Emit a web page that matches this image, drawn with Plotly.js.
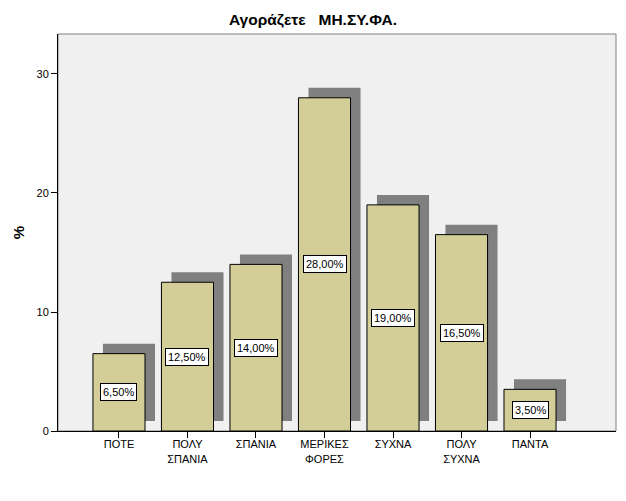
<!DOCTYPE html>
<html><head><meta charset="utf-8">
<script src="https://cdn.plot.ly/plotly-3.0.1.min.js"></script>
<style>html,body{margin:0;padding:0;background:#fff}</style>
</head><body><div id="chart" style="width:626px;height:501px"></div>
<script>
const categories = ["ΠΟΤΕ", "ΠΟΛΥ ΣΠΑΝΙΑ", "ΣΠΑΝΙΑ", "ΜΕΡΙΚΕΣ ΦΟΡΕΣ", "ΣΥΧΝΑ", "ΠΟΛΥ ΣΥΧΝΑ", "ΠΑΝΤΑ"];
const tickLabels = ["ΠΟΤΕ", "ΠΟΛΥ<br>ΣΠΑΝΙΑ", "ΣΠΑΝΙΑ", "ΜΕΡΙΚΕΣ<br>ΦΟΡΕΣ", "ΣΥΧΝΑ", "ΠΟΛΥ<br>ΣΥΧΝΑ", "ΠΑΝΤΑ"];
const percents = [6.5, 12.5, 14.0, 28.0, 19.0, 16.5, 3.5];

const font = "Arial, 'Liberation Sans', sans-serif";
const bw = 0.76;
const shadowBase = 0.84;   // ~10px lift
const shadowShift = 0.146; // ~10px right

const shadow = {
  type: 'bar', x: categories, y: percents,
  base: percents.map(() => shadowBase),
  width: percents.map(() => bw),
  offset: percents.map(() => -bw/2 + shadowShift),
  marker: {color: '#808080', line: {width: 0}},
  hoverinfo: 'skip', showlegend: false
};
const bars = {
  type: 'bar', x: categories, y: percents,
  width: percents.map(() => bw),
  offset: percents.map(() => -bw/2),
  marker: {color: '#d3ce98', line: {color: '#000', width: 1}},
  showlegend: false
};

const annotations = categories.map((c, i) => ({
  x: c, y: percents[i] / 2, xref: 'x', yref: 'y',
  text: percents[i].toFixed(2).replace('.', ',') + '%',
  showarrow: false, bgcolor: '#fff', bordercolor: '#000', borderwidth: 1, borderpad: 2,
  font: {family: font, size: 11, color: '#000'}
}));

const layout = {
  width: 626, height: 501,
  margin: {l: 58, r: 10, t: 34, b: 70, pad: 0},
  paper_bgcolor: '#fff', plot_bgcolor: '#f0f0f0',
  barmode: 'overlay',
  title: {text: '<b>Αγοράζετε&nbsp;&nbsp; ΜΗ.ΣΥ.ΦΑ.</b>', x: 0.5, xanchor: 'center', y: 0.96, yanchor: 'middle',
          font: {family: font, size: 15.5, color: '#000'}},
  xaxis: {
    type: 'category', range: [-0.89, 7.255],
    tickvals: categories, ticktext: tickLabels,
    ticks: 'outside', ticklen: 6, tickcolor: '#000', tickwidth: 1,
    ticklabelstandoff: -3,
    showline: true, linecolor: '#000', linewidth: 1,
    showgrid: false, zeroline: false,
    tickfont: {family: font, size: 11, color: '#000'}
  },
  yaxis: {
    range: [0, 33.36], tickvals: [0, 10, 20, 30],
    ticks: 'outside', ticklen: 6, tickcolor: '#000', tickwidth: 1,
    showline: true, linecolor: '#000', linewidth: 1,
    showgrid: false, zeroline: false,
    tickfont: {family: font, size: 11, color: '#000'},
    title: {text: '<b>%</b>', standoff: 8, font: {family: font, size: 15, color: '#000'}}
  },
  shapes: [{type: 'rect', xref: 'paper', yref: 'paper', x0: 0, x1: 1, y0: 0, y1: 1,
            line: {color: '#808080', width: 1}, layer: 'below'}],
  annotations: annotations
};
Plotly.newPlot('chart', [shadow, bars], layout, {displayModeBar: false, staticPlot: true});
</script></body></html>
